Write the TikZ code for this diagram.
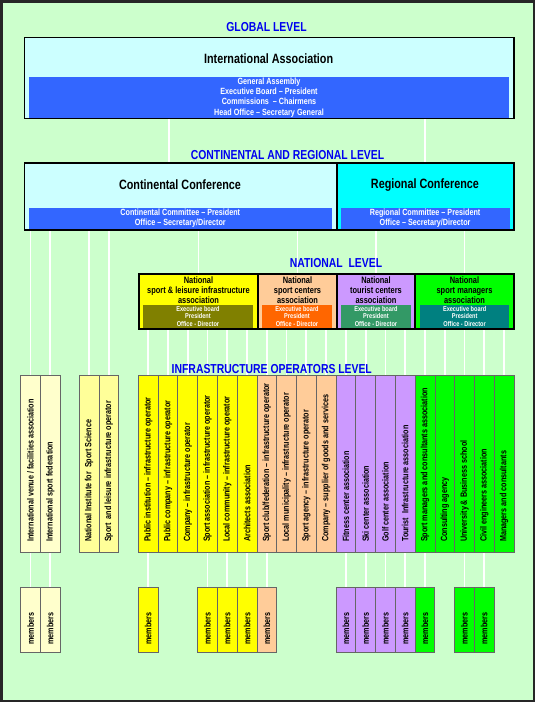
\documentclass[tikz,border=0pt]{standalone}
\usepackage{fontspec}
\setmainfont{Liberation Sans}[FakeStretch=0.8]
\usetikzlibrary{backgrounds,fit,calc}
\definecolor{bgc}{HTML}{CCFFCC}
\definecolor{lcyan}{HTML}{CCFFFF}
\definecolor{cyanc}{HTML}{00FFFF}
\definecolor{bandc}{HTML}{3366FF}
\definecolor{titc}{HTML}{0000F0}
\definecolor{yel}{HTML}{FFFF00}
\definecolor{peach}{HTML}{FFCC99}
\definecolor{lilac}{HTML}{CC99FF}
\definecolor{grn}{HTML}{00FF00}
\definecolor{cream}{HTML}{FFFFCC}
\definecolor{lyel}{HTML}{FFFF99}
\definecolor{olivec}{HTML}{808000}
\definecolor{orangec}{HTML}{FF6600}
\definecolor{seac}{HTML}{339966}
\definecolor{tealc}{HTML}{008080}
\begin{document}
\begin{tikzpicture}[x=1pt,y=-1pt,
  lvl/.style={font=\bfseries\fontsize{13}{15}\selectfont, text=titc, inner sep=0pt},
  frm/.style={draw=black, line width=1.4pt, inner sep=0pt, outer sep=0pt},
  band/.style={inner sep=0pt, outer sep=0pt},
  bandtxt/.style={inner sep=0pt, text=white, align=center, font=\bfseries\fontsize{9}{10.2}\selectfont},
  ttl/.style={font=\bfseries\fontsize{13.5}{16}\selectfont, inner sep=0pt},
  nattxt/.style={font=\bfseries\fontsize{9.3}{9.7}\selectfont, align=center, inner sep=0pt},
  natbtxt/.style={inner sep=0pt, text=white, align=center, font=\bfseries\fontsize{7}{7.3}\selectfont},
  cell/.style={draw=black!60, line width=0.7pt, inner sep=0pt, outer sep=0pt, anchor=north west},
  vlab/.style={rotate=90, anchor=west, inner sep=0pt, font=\bfseries\fontsize{9}{10}\selectfont},
  wire/.style={draw=white, line width=1.7pt},
]
\useasboundingbox (0,0) rectangle (535,702);

% level titles
\node[lvl] (lg) at (266.5,27) {GLOBAL LEVEL};
\node[lvl] (lc) at (287.5,154.6) {CONTINENTAL AND REGIONAL LEVEL};
\node[lvl] (ln) at (336,262.6) {NATIONAL\ \ LEVEL};
\node[lvl] (li) at (271.8,368.7) {INFRASTRUCTURE OPERATORS LEVEL};

% global
\node[frm, fill=lcyan, fit={(24.6,37.5)(513.8,118.7)}] (ia) {};
\node[band, fill=bandc, fit={(29,76.8)(509,118)}] (iab) {};
\node[bandtxt] (iabt) at (iab.center) {General Assembly\\Executive Board – President\\Commissions\ \ – Chairmens\\Head Office – Secretary General};
\node[ttl] (iat) at (268.6,58.7) {International Association};

% continental / regional
\node[frm, fill=lcyan, fit={(24.6,163.1)(336.8,230)}] (cont) {};
\node[frm, fill=cyanc, fit={(336.8,163.1)(513.8,230)}] (reg) {};
\node[band, fill=bandc, fit={(29,207.8)(331.6,229.3)}] (contb) {};
\node[band, fill=bandc, fit={(340.5,207.8)(509.7,229.3)}] (regb) {};
\node[bandtxt] (contbt) at (contb.center) {Continental Committee – President\\Office – Secretary/Director};
\node[bandtxt] (regbt) at (regb.center) {Regional Committee – President\\Office – Secretary/Director};
\node[ttl] (contt) at (180,184.6) {Continental Conference};
\node[ttl] (regt) at (425,184.6) {Regional Conference};

% national
\node[frm, fill=yel, fit={(139,274)(258,329)}] (n1) {};
\node[frm, fill=peach, fit={(258,274)(337,329)}] (n2) {};
\node[frm, fill=lilac, fit={(337,274)(415,329)}] (n3) {};
\node[frm, fill=grn, fit={(415,274)(514,329)}] (n4) {};
\node[band, fill=olivec, fit={(143.3,305)(252.7,327.7)}] (nb1) {};
\node[band, fill=orangec, fit={(262.3,305)(331.7,327.7)}] (nb2) {};
\node[band, fill=seac, fit={(341,305)(411,327.7)}] (nb3) {};
\node[band, fill=tealc, fit={(420,305)(509.3,327.7)}] (nb4) {};
\foreach \k in {1,2,3,4}
  \node[natbtxt] (nbt\k) at (nb\k.center) {Executive board\\President\\Office - Director};
\node[nattxt] (nt1) at (198.5,290.3) {National\\sport \& leisure infrastructure\\association};
\node[nattxt] (nt2) at (297.5,290.3) {National\\sport centers\\association};
\node[nattxt] (nt3) at (376,290.3) {National\\tourist centers\\association};
\node[nattxt] (nt4) at (464.5,290.3) {National\\sport managers\\association};

% infrastructure operators
\foreach \i/\x/\c/\t in {1/20.7/cream/{International venue / facilities association},
  2/40.4/cream/{International sport federation},
  3/79.3/lyel/{National Institute for\ \ Sport Science},
  4/99/lyel/{Sport\ \ and leisure infrastructure operator}}
{
  \node[cell, fill=\c, minimum width=19.7pt, minimum height=177pt] (i\i) at (\x,375) {};
  \node[vlab] (t\i) at ([yshift=10pt]i\i.south) {\t};
}
\foreach \i/\c/\t [evaluate=\i as \x using {138.3+(\i-5)*19.77}] in {
  5/yel/{Public institution – infrastructure operator},
  6/yel/{Public company – infrastructure operator},
  7/yel/{Company – infrastructure operator},
  8/yel/{Sport association – infrastructure operator},
  9/yel/{Local community – infrastructure operator},
  10/yel/{Architects association},
  11/peach/{Sport club/federation – infrastructure operator},
  12/peach/{Local municipality – infrastructure operator},
  13/peach/{Sport agency – infrastructure operator},
  14/peach/{Company – supplier of goods and services},
  15/lilac/{Fitness center association},
  16/lilac/{Ski center association},
  17/lilac/{Golf center association},
  18/lilac/{Tourist\ \ Infrastructure association},
  19/grn/{Sport managers and consultants association},
  20/grn/{Consulting agency},
  21/grn/{University \& Business school},
  22/grn/{Civil engineers association},
  23/grn/{Managers and consultants}}
{
  \node[cell, fill=\c, minimum width=19.77pt, minimum height=177pt] (i\i) at (\x,375) {};
  \node[vlab] (t\i) at ([yshift=10pt]i\i.south) {\t};
}

% members
\coordinate (mtop) at (0,587.3);
\foreach \i/\c in {1/cream,2/cream,5/yel,8/yel,9/yel,10/yel,11/peach,15/lilac,16/lilac,17/lilac,18/lilac,19/grn,21/grn,22/grn}
{
  \node[cell, anchor=north, fill=\c, minimum width=19.7pt, minimum height=64.7pt] (m\i) at (i\i.south |- mtop) {};
  \node[vlab] (mt\i) at ([yshift=7.4pt]m\i.south) {members};
}

% background and connectors
\begin{pgfonlayer}{background}
  \fill[bgc] (0,0) rectangle (535,702);
  \draw[black!85, line width=2.5pt] (1.25,1.25) rectangle (533.75,700.75);
  \coordinate (g1) at (169,0);
  \draw[wire] (ia.south -| g1) -- (cont.north -| g1);
  \draw[wire] (ia.south -| reg.north) -- (reg.north);
  \foreach \k in {1,2,3,4} \draw[wire] (cont.south -| i\k.north) -- (i\k.north);
  \foreach \k in {1,2} \draw[wire] (cont.south -| n\k.north) -- (n\k.north);
  \foreach \k in {3,4} \draw[wire] (reg.south -| n\k.north) -- (n\k.north);
  \foreach \k in {5,...,10} \draw[wire] (n1.south -| i\k.north) -- (i\k.north);
  \foreach \k in {11,...,14} \draw[wire] (n2.south -| i\k.north) -- (i\k.north);
  \foreach \k in {15,...,18} \draw[wire] (n3.south -| i\k.north) -- (i\k.north);
  \foreach \k in {19,...,23} \draw[wire] (n4.south -| i\k.north) -- (i\k.north);
  \foreach \k in {1,2,5,8,9,10,11,15,16,17,18,19,21,22} \draw[wire] (i\k.south) -- (m\k.north);
\end{pgfonlayer}
\end{tikzpicture}
\end{document}
